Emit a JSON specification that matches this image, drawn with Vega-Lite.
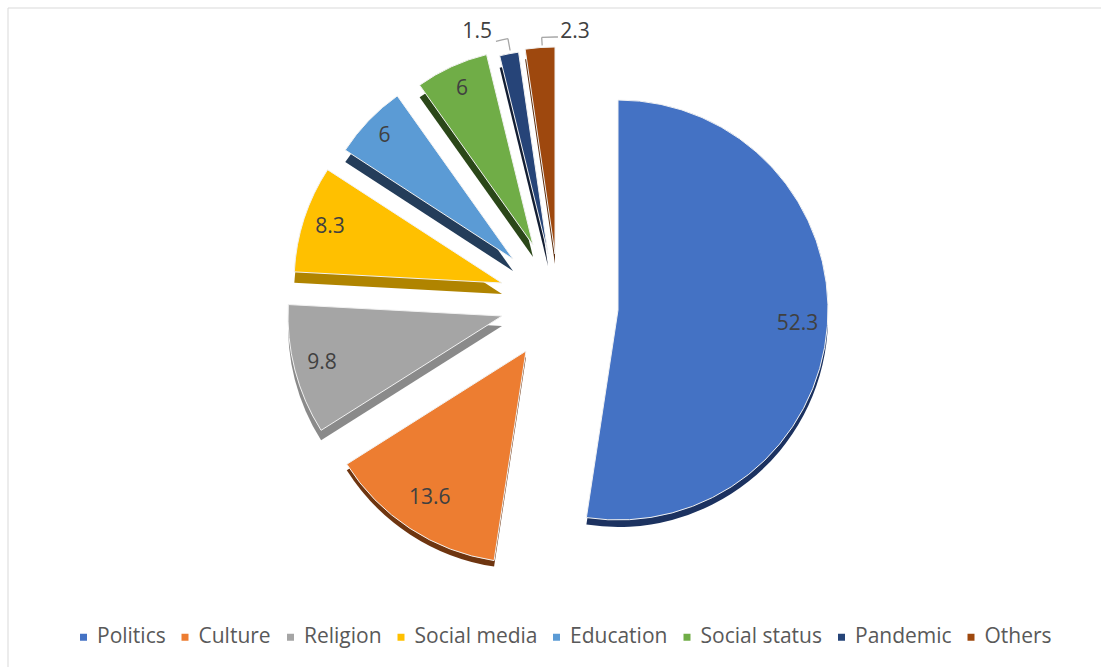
{
  "$schema": "https://vega.github.io/schema/vega-lite/v6.json",
  "width": 1100,
  "height": 670,
  "autosize": "none",
  "padding": {"left": 7.5, "top": 7.5, "right": 0, "bottom": 0},
  "background": "white",
  "config": {
    "view": {"stroke": "#d9d9d9", "strokeWidth": 1},
    "font": "Open Sans",
    "text": {"font": "Open Sans", "fontSize": 21, "color": "#404040"},
    "legend": {
      "orient": "none",
      "legendX": 65.5,
      "legendY": 619,
      "direction": "horizontal",
      "padding": 0,
      "symbolType": "square",
      "symbolSize": 49,
      "symbolStrokeWidth": 0,
      "labelFont": "Open Sans",
      "labelFontSize": 21,
      "labelColor": "#595959",
      "labelOffset": 3,
      "columnPadding": 8.5,
      "labelLimit": 300
    }
  },
  "data": {
    "values": [
      {"category": "Politics", "value": 52.3, "order": 1},
      {"category": "Culture", "value": 13.6, "order": 2},
      {"category": "Religion", "value": 9.8, "order": 3},
      {"category": "Social media", "value": 8.3, "order": 4},
      {"category": "Education", "value": 6, "order": 5},
      {"category": "Social status", "value": 6, "order": 6},
      {"category": "Pandemic", "value": 1.5, "order": 7},
      {"category": "Others", "value": 2.3, "order": 8}
    ]
  },
  "transform": [
    {"stack": "value", "groupby": [], "sort": [{"field": "order", "order": "ascending"}], "as": ["v0", "v1"]},
    {"calculate": "(datum.v0 + datum.v1) / 2", "as": "mid"}
  ],
  "layer": [
    {
      "mark": {"type": "point", "opacity": 0},
      "encoding": {
        "x": {"field": "order", "type": "quantitative", "axis": null},
        "y": {"field": "order", "type": "quantitative", "axis": null}
      }
    },
    {
      "transform": [{"filter": "datum.category === 'Politics'"}],
      "layer": [
        {"mark": {"type": "arc", "outerRadius": 210, "xOffset": 60.5, "yOffset": -25.5, "fill": "#1c3260"},
         "encoding": {"theta": {"field": "v0", "type": "quantitative", "stack": null, "scale": {"domain": [0, 99.8]}}, "theta2": {"field": "v1"}}},
        {"mark": {"type": "arc", "outerRadius": 210, "xOffset": 60.5, "yOffset": -32.5, "stroke": "#f2f2f2", "strokeWidth": 1},
         "encoding": {"theta": {"field": "v0", "type": "quantitative", "stack": null, "scale": {"domain": [0, 99.8]}}, "theta2": {"field": "v1"},
           "color": {"field": "category", "type": "nominal", "title": null, "scale": {"domain": ["Politics", "Culture", "Religion", "Social media", "Education", "Social status", "Pandemic", "Others"], "range": ["#4472C4", "#ED7D31", "#A5A5A5", "#FFC000", "#5B9BD5", "#70AD47", "#264478", "#9E480E"]}}}},
        {"mark": {"type": "text", "radius": 180, "xOffset": 60.5, "yOffset": -32.5},
         "encoding": {"theta": {"field": "mid", "type": "quantitative", "stack": null, "scale": {"domain": [0, 99.8]}}, "text": {"field": "value", "type": "nominal"}}}
      ]
    },
    {
      "transform": [{"filter": "datum.category === 'Culture'"}],
      "layer": [
        {"mark": {"type": "arc", "outerRadius": 212, "xOffset": -31.5, "yOffset": 14.5, "fill": "#6e3510"},
         "encoding": {"theta": {"field": "v0", "type": "quantitative", "stack": null, "scale": {"domain": [0, 99.8]}}, "theta2": {"field": "v1"}}},
        {"mark": {"type": "arc", "outerRadius": 212, "xOffset": -31.5, "yOffset": 8.5, "stroke": "#f2f2f2", "strokeWidth": 1},
         "encoding": {"theta": {"field": "v0", "type": "quantitative", "stack": null, "scale": {"domain": [0, 99.8]}}, "theta2": {"field": "v1"},
           "color": {"field": "category", "type": "nominal", "title": null, "scale": {"domain": ["Politics", "Culture", "Religion", "Social media", "Education", "Social status", "Pandemic", "Others"], "range": ["#4472C4", "#ED7D31", "#A5A5A5", "#FFC000", "#5B9BD5", "#70AD47", "#264478", "#9E480E"]}}}},
        {"mark": {"type": "text", "radius": 176, "xOffset": -31.5, "yOffset": 8.5},
         "encoding": {"theta": {"field": "mid", "type": "quantitative", "stack": null, "scale": {"domain": [0, 99.8]}}, "text": {"field": "value", "type": "nominal"}}}
      ]
    },
    {
      "transform": [{"filter": "datum.category === 'Religion'"}],
      "layer": [
        {"mark": {"type": "arc", "outerRadius": 214, "xOffset": -55.5, "yOffset": -16.5, "fill": "#8a8a8a"},
         "encoding": {"theta": {"field": "v0", "type": "quantitative", "stack": null, "scale": {"domain": [0, 99.8]}}, "theta2": {"field": "v1"}}},
        {"mark": {"type": "arc", "outerRadius": 214, "xOffset": -55.5, "yOffset": -26.5, "stroke": "#f2f2f2", "strokeWidth": 1},
         "encoding": {"theta": {"field": "v0", "type": "quantitative", "stack": null, "scale": {"domain": [0, 99.8]}}, "theta2": {"field": "v1"},
           "color": {"field": "category", "type": "nominal", "title": null, "scale": {"domain": ["Politics", "Culture", "Religion", "Social media", "Education", "Social status", "Pandemic", "Others"], "range": ["#4472C4", "#ED7D31", "#A5A5A5", "#FFC000", "#5B9BD5", "#70AD47", "#264478", "#9E480E"]}}}},
        {"mark": {"type": "text", "radius": 186, "xOffset": -55.5, "yOffset": -26.5},
         "encoding": {"theta": {"field": "mid", "type": "quantitative", "stack": null, "scale": {"domain": [0, 99.8]}}, "text": {"field": "value", "type": "nominal"}}}
      ]
    },
    {
      "transform": [{"filter": "datum.category === 'Social media'"}],
      "layer": [
        {"mark": {"type": "arc", "outerRadius": 208, "xOffset": -55.5, "yOffset": -48.5, "fill": "#b08400"},
         "encoding": {"theta": {"field": "v0", "type": "quantitative", "stack": null, "scale": {"domain": [0, 99.8]}}, "theta2": {"field": "v1"}}},
        {"mark": {"type": "arc", "outerRadius": 208, "xOffset": -55.5, "yOffset": -59.5, "stroke": "#f2f2f2", "strokeWidth": 1},
         "encoding": {"theta": {"field": "v0", "type": "quantitative", "stack": null, "scale": {"domain": [0, 99.8]}}, "theta2": {"field": "v1"},
           "color": {"field": "category", "type": "nominal", "title": null, "scale": {"domain": ["Politics", "Culture", "Religion", "Social media", "Education", "Social status", "Pandemic", "Others"], "range": ["#4472C4", "#ED7D31", "#A5A5A5", "#FFC000", "#5B9BD5", "#70AD47", "#264478", "#9E480E"]}}}},
        {"mark": {"type": "text", "radius": 181, "xOffset": -55.5, "yOffset": -59.5},
         "encoding": {"theta": {"field": "mid", "type": "quantitative", "stack": null, "scale": {"domain": [0, 99.8]}}, "text": {"field": "value", "type": "nominal"}}}
      ]
    },
    {
      "transform": [{"filter": "datum.category === 'Education'"}],
      "layer": [
        {"mark": {"type": "arc", "outerRadius": 200, "xOffset": -44.5, "yOffset": -71.5, "fill": "#243d5a"},
         "encoding": {"theta": {"field": "v0", "type": "quantitative", "stack": null, "scale": {"domain": [0, 99.8]}}, "theta2": {"field": "v1"}}},
        {"mark": {"type": "arc", "outerRadius": 200, "xOffset": -44.5, "yOffset": -83.5, "stroke": "#f2f2f2", "strokeWidth": 1},
         "encoding": {"theta": {"field": "v0", "type": "quantitative", "stack": null, "scale": {"domain": [0, 99.8]}}, "theta2": {"field": "v1"},
           "color": {"field": "category", "type": "nominal", "title": null, "scale": {"domain": ["Politics", "Culture", "Religion", "Social media", "Education", "Social status", "Pandemic", "Others"], "range": ["#4472C4", "#ED7D31", "#A5A5A5", "#FFC000", "#5B9BD5", "#70AD47", "#264478", "#9E480E"]}}}},
        {"mark": {"type": "text", "radius": 178, "xOffset": -44.5, "yOffset": -83.5},
         "encoding": {"theta": {"field": "mid", "type": "quantitative", "stack": null, "scale": {"domain": [0, 99.8]}}, "text": {"field": "value", "type": "nominal"}}}
      ]
    },
    {
      "transform": [{"filter": "datum.category === 'Social status'"}],
      "layer": [
        {"mark": {"type": "arc", "outerRadius": 196, "xOffset": -24.5, "yOffset": -85.5, "fill": "#2b4719"},
         "encoding": {"theta": {"field": "v0", "type": "quantitative", "stack": null, "scale": {"domain": [0, 99.8]}}, "theta2": {"field": "v1"}}},
        {"mark": {"type": "arc", "outerRadius": 196, "xOffset": -24.5, "yOffset": -97.5, "stroke": "#f2f2f2", "strokeWidth": 1},
         "encoding": {"theta": {"field": "v0", "type": "quantitative", "stack": null, "scale": {"domain": [0, 99.8]}}, "theta2": {"field": "v1"},
           "color": {"field": "category", "type": "nominal", "title": null, "scale": {"domain": ["Politics", "Culture", "Religion", "Social media", "Education", "Social status", "Pandemic", "Others"], "range": ["#4472C4", "#ED7D31", "#A5A5A5", "#FFC000", "#5B9BD5", "#70AD47", "#264478", "#9E480E"]}}}},
        {"mark": {"type": "text", "radius": 171, "xOffset": -24.5, "yOffset": -97.5},
         "encoding": {"theta": {"field": "mid", "type": "quantitative", "stack": null, "scale": {"domain": [0, 99.8]}}, "text": {"field": "value", "type": "nominal"}}}
      ]
    },
    {
      "transform": [{"filter": "datum.category === 'Pandemic'"}],
      "layer": [
        {"mark": {"type": "arc", "outerRadius": 204, "xOffset": -9.5, "yOffset": -76.5, "fill": "#131e33"},
         "encoding": {"theta": {"field": "v0", "type": "quantitative", "stack": null, "scale": {"domain": [0, 99.8]}}, "theta2": {"field": "v1"}}},
        {"mark": {"type": "arc", "outerRadius": 204, "xOffset": -9.5, "yOffset": -88.5, "stroke": "#f2f2f2", "strokeWidth": 1},
         "encoding": {"theta": {"field": "v0", "type": "quantitative", "stack": null, "scale": {"domain": [0, 99.8]}}, "theta2": {"field": "v1"},
           "color": {"field": "category", "type": "nominal", "title": null, "scale": {"domain": ["Politics", "Culture", "Religion", "Social media", "Education", "Social status", "Pandemic", "Others"], "range": ["#4472C4", "#ED7D31", "#A5A5A5", "#FFC000", "#5B9BD5", "#70AD47", "#264478", "#9E480E"]}}}},
        {"mark": {"type": "arc", "innerRadius": 207, "outerRadius": 219, "thetaOffset": 0.008, "theta2Offset": 0.008, "filled": false, "stroke": "#a6a6a6", "strokeWidth": 1.3, "xOffset": -9.5, "yOffset": -88.5},
         "encoding": {"theta": {"field": "mid", "type": "quantitative", "stack": null, "scale": {"domain": [0, 99.8]}}, "theta2": {"field": "mid"}}},
        {"mark": {"type": "arc", "innerRadius": 219, "outerRadius": 219, "thetaOffset": -0.048, "theta2Offset": 0.008, "filled": false, "stroke": "#a6a6a6", "strokeWidth": 1.3, "xOffset": -9.5, "yOffset": -88.5},
         "encoding": {"theta": {"field": "mid", "type": "quantitative", "stack": null, "scale": {"domain": [0, 99.8]}}, "theta2": {"field": "mid"}}},
        {"mark": {"type": "text", "radius": 233, "thetaOffset": -0.117, "xOffset": -9.5, "yOffset": -88.5},
         "encoding": {"theta": {"field": "mid", "type": "quantitative", "stack": null, "scale": {"domain": [0, 99.8]}}, "text": {"field": "value", "type": "nominal"}}}
      ]
    },
    {
      "transform": [{"filter": "datum.category === 'Others'"}],
      "layer": [
        {"mark": {"type": "arc", "outerRadius": 207, "xOffset": -2.5, "yOffset": -78.5, "fill": "#5a2a08"},
         "encoding": {"theta": {"field": "v0", "type": "quantitative", "stack": null, "scale": {"domain": [0, 99.8]}}, "theta2": {"field": "v1"}}},
        {"mark": {"type": "arc", "outerRadius": 207, "xOffset": -2.5, "yOffset": -88.5, "stroke": "#f2f2f2", "strokeWidth": 1},
         "encoding": {"theta": {"field": "v0", "type": "quantitative", "stack": null, "scale": {"domain": [0, 99.8]}}, "theta2": {"field": "v1"},
           "color": {"field": "category", "type": "nominal", "title": null, "scale": {"domain": ["Politics", "Culture", "Religion", "Social media", "Education", "Social status", "Pandemic", "Others"], "range": ["#4472C4", "#ED7D31", "#A5A5A5", "#FFC000", "#5B9BD5", "#70AD47", "#264478", "#9E480E"]}}}},
        {"mark": {"type": "arc", "innerRadius": 209, "outerRadius": 217, "thetaOffset": 0.011, "theta2Offset": 0.011, "filled": false, "stroke": "#a6a6a6", "strokeWidth": 1.3, "xOffset": -2.5, "yOffset": -88.5},
         "encoding": {"theta": {"field": "mid", "type": "quantitative", "stack": null, "scale": {"domain": [0, 99.8]}}, "theta2": {"field": "mid"}}},
        {"mark": {"type": "arc", "innerRadius": 217, "outerRadius": 217, "thetaOffset": 0.011, "theta2Offset": 0.086, "filled": false, "stroke": "#a6a6a6", "strokeWidth": 1.3, "xOffset": -2.5, "yOffset": -88.5},
         "encoding": {"theta": {"field": "mid", "type": "quantitative", "stack": null, "scale": {"domain": [0, 99.8]}}, "theta2": {"field": "mid"}}},
        {"mark": {"type": "text", "radius": 223, "thetaOffset": 0.162, "xOffset": -2.5, "yOffset": -88.5},
         "encoding": {"theta": {"field": "mid", "type": "quantitative", "stack": null, "scale": {"domain": [0, 99.8]}}, "text": {"field": "value", "type": "nominal"}}}
      ]
    }
  ]
}
